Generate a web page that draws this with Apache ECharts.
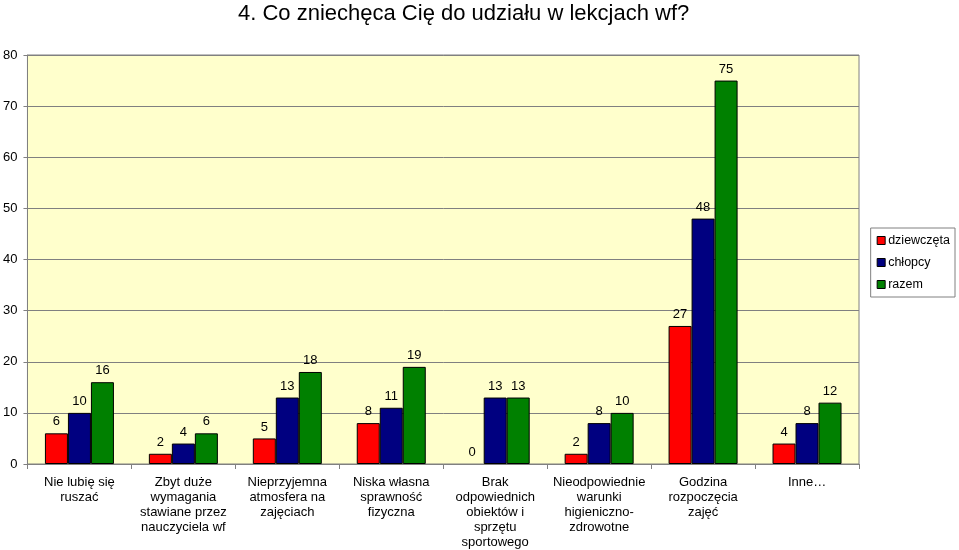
<!DOCTYPE html>
<html><head><meta charset="utf-8">
<script src="https://cdn.jsdelivr.net/npm/echarts@6/dist/echarts.min.js"></script>
<style>html,body{margin:0;padding:0;background:#fff}#c{width:959px;height:550px}</style>
</head><body><div id="c"></div>
<script>
const categories = [
  "Nie lubię się\nruszać",
  "Zbyt duże\nwymagania\nstawiane przez\nnauczyciela wf",
  "Nieprzyjemna\natmosfera na\nzajęciach",
  "Niska własna\nsprawność\nfizyczna",
  "Brak\nodpowiednich\nobiektów i\nsprzętu\nsportowego",
  "Nieodpowiednie\nwarunki\nhigieniczno-\nzdrowotne",
  "Godzina\nrozpoczęcia\nzajęć",
  "Inne…"
];
const dziewczeta = [6, 2, 5, 8, 0, 2, 27, 4];
const chlopcy = [10, 4, 13, 11, 13, 8, 48, 8];
const razem = [16, 6, 18, 19, 13, 10, 75, 12];
const seriesNames = ["dziewczęta", "chłopcy", "razem"];
const colors = ["#FF0000", "#000080", "#008000"];
const yTicks = [0, 10, 20, 30, 40, 50, 60, 70, 80];

const FONT = "Liberation Sans, Arial, sans-serif";
const chart = echarts.init(document.getElementById('c'), null, {renderer: 'canvas'});
const mk = (name, data, color) => ({
  name, type: 'bar', barWidth: 23, barGap: '0%',
  data: data.map(v => v === 0 ? {value: v, itemStyle: {borderWidth: 0}} : v),
  itemStyle: {color, borderColor: '#000', borderWidth: 1},
  label: {show: true, position: 'top', distance: 5, color: '#000', fontSize: 13, fontFamily: FONT},
  emphasis: {disabled: true}, animation: false
});
chart.setOption({
  animation: false,
  title: {text: "4. Co zniechęca Cię do udziału w lekcjach wf?", left: 233, top: -2,
    textStyle: {fontSize: 22, fontWeight: 'normal', color: '#000', fontFamily: FONT}},
  grid: {left: 27, right: 100, top: 55, bottom: 86, show: true, backgroundColor: '#FFFFCC', borderColor: '#808080', borderWidth: 1},
  legend: {
    orient: 'vertical', right: 4, top: 228, itemWidth: 8, itemHeight: 8, itemGap: 9, icon: 'rect',
    padding: [6, 5, 6, 6], borderColor: '#808080', borderWidth: 1, backgroundColor: '#fff',
    textStyle: {fontSize: 12.5, color: '#000', fontFamily: FONT, padding: [0, 0, 0, -2]},
    itemStyle: {borderColor: '#000', borderWidth: 1},
    data: seriesNames
  },
  xAxis: {
    type: 'category', data: categories,
    axisLine: {lineStyle: {color: '#808080'}},
    axisTick: {show: true, length: 5, lineStyle: {color: '#808080'}},
    axisLabel: {interval: 0, color: '#000', fontSize: 13, fontFamily: FONT, lineHeight: 15, margin: 11}
  },
  yAxis: {
    type: 'value', min: 0, max: 80, interval: 10,
    axisLine: {show: true, lineStyle: {color: '#808080'}},
    axisTick: {show: true, length: 4, lineStyle: {color: '#808080'}},
    splitLine: {lineStyle: {color: '#808080', width: 1}},
    axisLabel: {color: '#000', fontSize: 13, fontFamily: FONT, margin: 10,
      formatter: v => yTicks.includes(v) ? String(v) : ''}
  },
  series: [mk(seriesNames[0], dziewczeta, colors[0]), mk(seriesNames[1], chlopcy, colors[1]), mk(seriesNames[2], razem, colors[2])]
});
</script></body></html>
